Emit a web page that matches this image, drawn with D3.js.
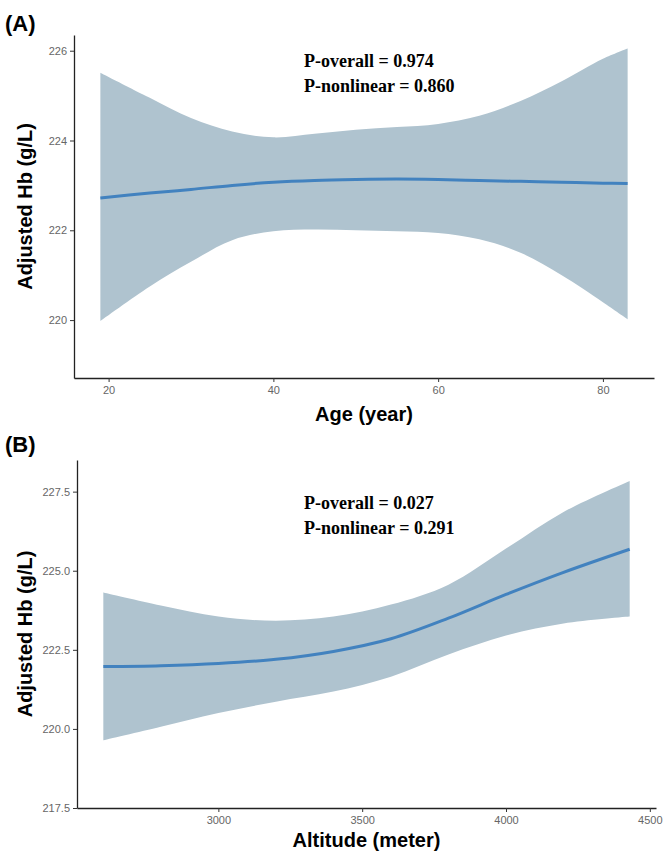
<!DOCTYPE html>
<html>
<head>
<meta charset="utf-8">
<script src="https://cdn.jsdelivr.net/npm/d3@7"></script>
<style>
  body { margin: 0; background: #fff; }
  svg { display: block; }
</style>
</head>
<body>
<div id="chart"></div>
<script>
// panel A: age
const ageX = [19, 25, 30, 35, 40, 45, 50, 55, 60, 65, 70, 75, 80, 83];
const ageFit = [222.72, 222.83, 222.91, 223.0, 223.07, 223.11, 223.13, 223.14, 223.13, 223.11, 223.09, 223.07, 223.05, 223.04];
const ageUpper = [225.51, 224.95, 224.5, 224.2, 224.07, 224.15, 224.24, 224.3, 224.37, 224.55, 224.88, 225.32, 225.82, 226.05];
const ageLower = [219.98, 220.75, 221.3, 221.78, 221.98, 222.02, 222.0, 221.98, 221.94, 221.8, 221.5, 221.0, 220.4, 220.02];
const ageTicksX = [20, 40, 60, 80];
const ageTicksY = [220, 222, 224, 226];

// panel B: altitude
const altX = [2600, 2800, 3000, 3200, 3400, 3600, 3800, 4000, 4200, 4430];
const altFit = [221.97, 222.0, 222.07, 222.2, 222.45, 222.85, 223.5, 224.25, 224.95, 225.68];
const altUpper = [224.31, 223.9, 223.55, 223.42, 223.55, 223.93, 224.56, 225.7, 226.86, 227.84];
const altLower = [219.64, 220.07, 220.5, 220.86, 221.18, 221.65, 222.35, 222.95, 223.33, 223.55];
const altTicksX = [3000, 3500, 4000, 4500];
const altTicksY = [217.5, 220.0, 222.5, 225.0, 227.5];

const width = 666, height = 859;
const svg = d3.select("#chart").append("svg")
  .attr("width", width)
  .attr("height", height);

const drawPanel = (opt) => {
  const rows = opt.xs.map((x, i) => ({ x: x, fit: opt.fit[i], lo: opt.lower[i], hi: opt.upper[i] }));
  const xr = d3.extent(opt.xs);
  const pad = (xr[1] - xr[0]) * 0.05;
  const x = d3.scaleLinear().domain([xr[0] - pad, xr[1] + pad]).range([opt.left, opt.right]);
  const y = d3.scaleLinear().domain(opt.yDomain).range([opt.bottom, opt.top]);

  const g = svg.append("g");

  // 信賴區間
  g.append("path")
    .datum(rows)
    .attr("fill", "#afc3cf")
    .attr("d", d3.area().curve(d3.curveCatmullRom)
      .x(d => x(d.x)).y0(d => y(d.lo)).y1(d => y(d.hi)));

  // 擬合線
  g.append("path")
    .datum(rows)
    .attr("fill", "none")
    .attr("stroke", "#4282bf")
    .attr("stroke-width", 3)
    .attr("d", d3.line().curve(d3.curveCatmullRom).x(d => x(d.x)).y(d => y(d.fit)));

  // x 軸
  const ax = g.append("g")
    .attr("transform", `translate(0,${opt.bottom})`)
    .call(d3.axisBottom(x).tickValues(opt.ticksX).tickFormat(d3.format("d")).tickSize(4).tickSizeOuter(0).tickPadding(4));
  // y 軸
  const ay = g.append("g")
    .attr("transform", `translate(${opt.left},0)`)
    .call(d3.axisLeft(y).tickValues(opt.ticksY).tickFormat(opt.fmtY).tickSize(4).tickSizeOuter(0).tickPadding(3));

  [ax, ay].forEach(a => {
    a.select(".domain").attr("stroke", "#222").attr("stroke-width", 1.3);
    a.selectAll(".tick line").attr("stroke", "#333");
    a.selectAll(".tick text")
      .attr("fill", "#666")
      .style("font-family", "'Liberation Sans', Arial, sans-serif")
      .style("font-size", "11px");
  });

  // 標題
  svg.append("text")
    .attr("x", 5).attr("y", opt.tagY)
    .style("font-family", "'Liberation Sans', Arial, sans-serif")
    .style("font-weight", "bold").style("font-size", "22px")
    .text(opt.tag);

  svg.append("text")
    .attr("x", (opt.left + opt.right) / 2).attr("y", opt.xTitleY)
    .attr("text-anchor", "middle")
    .style("font-family", "'Liberation Sans', Arial, sans-serif")
    .style("font-weight", "bold").style("font-size", "20px")
    .text(opt.xTitle);

  svg.append("text")
    .attr("transform", `translate(32,${(opt.top + opt.bottom) / 2}) rotate(-90)`)
    .attr("text-anchor", "middle")
    .style("font-family", "'Liberation Sans', Arial, sans-serif")
    .style("font-weight", "bold").style("font-size", "20px")
    .text("Adjusted Hb (g/L)");

  opt.notes.forEach((t, i) => {
    svg.append("text")
      .attr("x", 304).attr("y", opt.noteY + i * 25)
      .style("font-family", "'Liberation Serif', 'Times New Roman', serif")
      .style("font-weight", "bold").style("font-size", "18px")
      .text(t);
  });
};

drawPanel({
  xs: ageX, fit: ageFit, upper: ageUpper, lower: ageLower,
  ticksX: ageTicksX, ticksY: ageTicksY, fmtY: d3.format("d"),
  yDomain: [218.71, 226.35],
  left: 74, right: 654, top: 35, bottom: 378,
  tag: "(A)", tagY: 31, xTitle: "Age (year)", xTitleY: 421,
  notes: ["P-overall = 0.974", "P-nonlinear = 0.860"], noteY: 67
});

drawPanel({
  xs: altX, fit: altFit, upper: altUpper, lower: altLower,
  ticksX: altTicksX, ticksY: altTicksY, fmtY: d3.format(".1f"),
  yDomain: [217.5, 228.5],
  left: 77, right: 656, top: 460, bottom: 808,
  tag: "(B)", tagY: 452, xTitle: "Altitude (meter)", xTitleY: 847,
  notes: ["P-overall = 0.027", "P-nonlinear = 0.291"], noteY: 509
});
</script>
</body>
</html>
